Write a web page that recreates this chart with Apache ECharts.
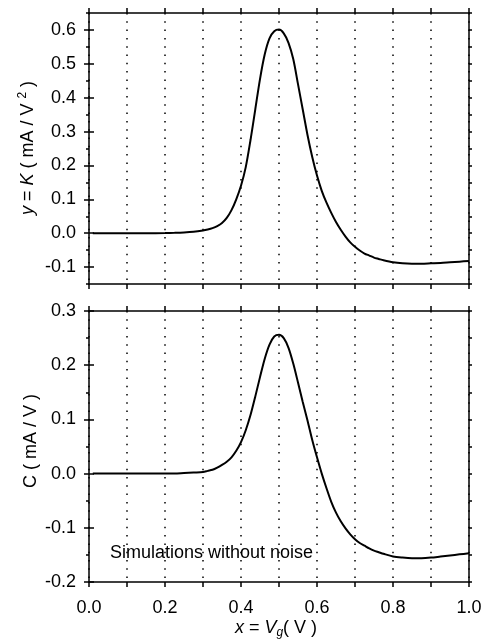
<!DOCTYPE html>
<html>
<head>
<meta charset="utf-8">
<script src="https://cdn.jsdelivr.net/npm/echarts@6/dist/echarts.min.js"></script>
<style>
html, body { margin: 0; padding: 0; background: #fff; }
#chart { width: 489px; height: 639px; }
</style>
</head>
<body>
<div id="chart"></div>
<script>
// K curve (top panel)
const kX = [0.01, 0.05, 0.1, 0.15, 0.2, 0.225, 0.25, 0.275, 0.3, 0.3125, 0.325, 0.3375, 0.35, 0.3625, 0.375, 0.3875,
            0.4, 0.4125, 0.425, 0.4375, 0.45, 0.4625, 0.475, 0.4875, 0.5, 0.5125, 0.525, 0.5375, 0.55, 0.5625,
            0.575, 0.5875, 0.6, 0.6125, 0.625, 0.6375, 0.65, 0.6625, 0.675, 0.6875, 0.7, 0.7125, 0.725, 0.7375,
            0.75, 0.7625, 0.775, 0.8, 0.825, 0.85, 0.875, 0.9, 0.925, 0.95, 0.975, 1.0];
const kY = [0, 0, 0, 0, 0.0005, 0.001, 0.002, 0.004, 0.008, 0.011, 0.015, 0.021, 0.03, 0.045, 0.068, 0.1,
            0.14, 0.195, 0.275, 0.365, 0.455, 0.528, 0.575, 0.596, 0.601, 0.59, 0.562, 0.514, 0.44, 0.365,
            0.29, 0.225, 0.17, 0.125, 0.09, 0.06, 0.033, 0.01, -0.01, -0.027, -0.04, -0.051, -0.06, -0.066,
            -0.072, -0.076, -0.08, -0.086, -0.089, -0.09, -0.09, -0.089, -0.088, -0.086, -0.084, -0.082];
// C curve (bottom panel)
const cX = [0.01, 0.05, 0.1, 0.15, 0.2, 0.225, 0.25, 0.275, 0.3, 0.3125, 0.325, 0.3375, 0.35, 0.3625, 0.375, 0.3875,
            0.4, 0.4125, 0.425, 0.4375, 0.45, 0.4625, 0.475, 0.4875, 0.5, 0.5125, 0.525, 0.5375, 0.55, 0.5625,
            0.575, 0.5875, 0.6, 0.6125, 0.625, 0.6375, 0.65, 0.6625, 0.675, 0.6875, 0.7, 0.7125, 0.725, 0.7375,
            0.75, 0.7625, 0.775, 0.8, 0.825, 0.85, 0.875, 0.9, 0.925, 0.95, 0.975, 1.0];
const cY = [0, 0, 0, 0, 0, 0, 0.001, 0.002, 0.003, 0.005, 0.007, 0.011, 0.016, 0.022, 0.03, 0.042,
            0.058, 0.08, 0.108, 0.142, 0.178, 0.212, 0.238, 0.253, 0.256, 0.25, 0.232, 0.203, 0.168, 0.132,
            0.098, 0.062, 0.03, 0.0, -0.027, -0.052, -0.072, -0.088, -0.101, -0.112, -0.121, -0.128, -0.133, -0.138,
            -0.142, -0.145, -0.148, -0.153, -0.155, -0.156, -0.156, -0.155, -0.153, -0.151, -0.149, -0.147];

const xLabels = [0, 0.2, 0.4, 0.6, 0.8, 1.0];
const kTicks = [-0.1, 0, 0.1, 0.2, 0.3, 0.4, 0.5, 0.6];
const cTicks = [-0.2, -0.1, 0, 0.1, 0.2, 0.3];
const kRange = [-0.15, 0.65];
const cRange = [-0.2, 0.3];

const FONT = 'Liberation Sans';
const FS = 18;
const black = '#000';

const grids = [
    { left: 89, right: 20, top: 13, height: 271 },
    { left: 89, right: 20, top: 311, height: 271 }
];

function xAx(grid, pos, labels) {
    return {
        type: 'value', gridIndex: grid, position: pos, min: 0, max: 1, interval: 0.1,
        axisLine: { show: true, onZero: false, lineStyle: { color: black, width: 1.5 } },
        axisTick: { show: true, inside: false, length: 5, lineStyle: { color: black, width: 1.5 } },
        axisLabel: {
            show: labels, margin: 17, color: black, fontFamily: FONT, fontSize: FS,
            formatter: v => xLabels.some(t => Math.abs(t - v) < 1e-6) ? v.toFixed(1) : ''
        },
        splitLine: {
            show: pos === 'bottom',
            lineStyle: { color: black, width: 1.5, type: [1.5, 6.8] }
        }
    };
}

// minor ticks every 0.05, major ticks with labels on the tick values
function yAxes(grid, range, ticks) {
    const out = [];
    ['left', 'right'].forEach(pos => {
        out.push({
            type: 'value', gridIndex: grid, position: pos, min: range[0], max: range[1], interval: 0.05,
            axisLine: { show: true, onZero: false, lineStyle: { color: black, width: 1.5 } },
            axisTick: { show: true, length: 3, lineStyle: { color: black, width: 1.5 } },
            axisLabel: { show: false },
            splitLine: { show: false }
        });
        out.push({
            type: 'value', gridIndex: grid, position: pos, min: range[0], max: range[1],
            axisLine: { show: false },
            axisTick: { show: true, length: 5, customValues: ticks, lineStyle: { color: black, width: 1.5 } },
            axisLabel: {
                show: pos === 'left', customValues: ticks, margin: 13, color: black,
                fontFamily: FONT, fontSize: FS, formatter: v => v.toFixed(1)
            },
            splitLine: { show: false }
        });
    });
    return out;
}

const kData = kX.map((x, i) => [x, kY[i]]);
const cData = cX.map((x, i) => [x, cY[i]]);

const rich = {
    i: { fontStyle: 'italic', fontFamily: FONT, fontSize: FS, color: black },
    sup: { fontFamily: FONT, fontSize: 12, color: black, padding: [0, 0, 10, 0] },
    sub: { fontStyle: 'italic', fontFamily: FONT, fontSize: 12, color: black, padding: [10, 0, 0, 0] }
};
const txt = { fontFamily: FONT, fontSize: FS, fill: black, rich: rich };

const option = {
    backgroundColor: '#fff',
    animation: false,
    grid: grids,
    xAxis: [xAx(0, 'bottom', false), xAx(0, 'top', false), xAx(1, 'bottom', true), xAx(1, 'top', false)],
    yAxis: yAxes(0, kRange, kTicks).concat(yAxes(1, cRange, cTicks)),
    series: [
        {
            type: 'line', xAxisIndex: 0, yAxisIndex: 0, data: kData, smooth: 0.3,
            showSymbol: false, lineStyle: { color: black, width: 2 }
        },
        {
            type: 'line', xAxisIndex: 2, yAxisIndex: 4, data: cData, smooth: 0.3,
            showSymbol: false, lineStyle: { color: black, width: 2 }
        }
    ],
    graphic: [
        {
            type: 'text', x: 28, y: 148, rotation: Math.PI / 2,
            style: Object.assign({ text: '{i|y} = {i|K} ( mA / V {sup|2} )', align: 'center', verticalAlign: 'middle' }, txt)
        },
        {
            type: 'text', x: 31, y: 441, rotation: Math.PI / 2,
            style: Object.assign({ text: 'C ( mA / V )', align: 'center', verticalAlign: 'middle' }, txt)
        },
        {
            type: 'text', x: 276, y: 628,
            style: Object.assign({ text: '{i|x} = {i|V}{sub|g}( V )', align: 'center', verticalAlign: 'middle' }, txt)
        },
        {
            type: 'text', x: 110, y: 553,
            style: Object.assign({ text: 'Simulations without noise', align: 'left', verticalAlign: 'middle' }, txt)
        }
    ]
};

const myChart = echarts.init(document.getElementById('chart'));
myChart.setOption(option);
</script>
</body>
</html>
